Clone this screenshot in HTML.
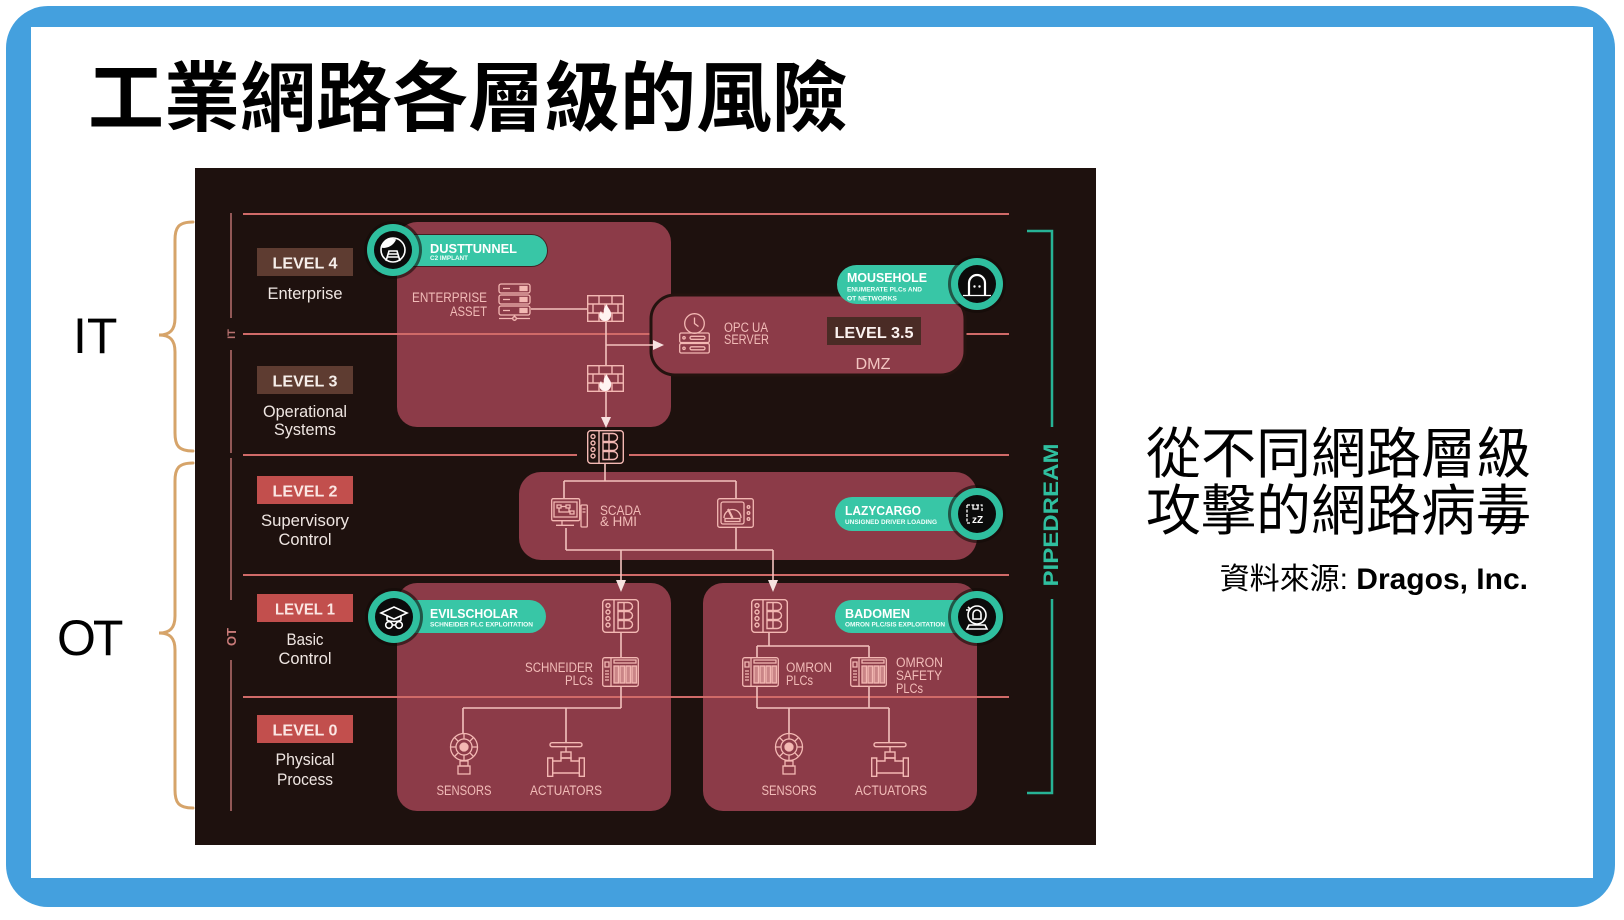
<!DOCTYPE html>
<html>
<head>
<meta charset="utf-8">
<style>
  html, body { margin:0; padding:0; }
  body { width:1624px; height:920px; overflow:hidden; background:#ffffff; position:relative; font-family:"Liberation Sans","Noto Sans CJK TC",sans-serif; }
  .frame { position:absolute; left:6px; top:6px; width:1609px; height:901px; background:#44a0de; border-radius:42px; }
  .inner { position:absolute; left:31px; top:27px; width:1562px; height:851px; background:#ffffff; }
  .title { position:absolute; left:88px; top:62px; font-family:"Liberation Sans","Noto Sans CJK TC",sans-serif; font-weight:700; font-size:76px; line-height:76px; white-space:nowrap; color:#000; }
  .side { position:absolute; left:1146px; top:426px; font-family:"Liberation Sans","Noto Sans CJK TC",sans-serif; font-weight:400; font-size:55px; line-height:57px; white-space:nowrap; color:#000; }
  .src { position:absolute; right:96px; top:565px; font-family:"Liberation Sans","Noto Sans CJK TC",sans-serif; font-size:30px; line-height:30px; white-space:nowrap; color:#000; }
  .src b { font-weight:700; }
  .lab { position:absolute; font-family:"Liberation Sans",sans-serif; font-size:50px; line-height:50px; color:#000; white-space:nowrap; }
</style>
</head>
<body>
<div class="frame"></div>
<div class="inner"></div>

<div class="title">工業網路各層級的風險</div>

<div class="lab" style="left:73px;top:311px;">IT</div>
<div class="lab" style="left:57px;top:613px;letter-spacing:-3px;">OT</div>

<svg style="position:absolute;left:0;top:0" width="1624" height="920" viewBox="0 0 1624 920">
  <g fill="none" stroke="#d6a46a" stroke-width="3" stroke-linecap="round">
    <path d="M193,222 C178,222 175,228 175,240 L175,318 C175,330 170,335 159,335 C170,335 175,340 175,352 L175,433 C175,445 178,451 193,451"/>
    <path d="M193,463 C178,463 175,469 175,481 L175,616 C175,628 170,633 159,633 C170,633 175,638 175,650 L175,790 C175,802 178,808 193,808"/>
  </g>
</svg>

<div class="side">從不同網路層級<br>攻擊的網路病毒</div>
<div class="src">資料來源: <b>Dragos, Inc.</b></div>

<svg style="position:absolute;left:195px;top:168px" width="901" height="677" viewBox="195 168 901 677" font-family="Liberation Sans, sans-serif">
  <defs>
    <g id="sw" fill="none" stroke="#f3b8b3" stroke-width="1.4">
      <rect x="0.7" y="0.7" width="35.6" height="32.6" rx="3"/>
      <line x1="12" y1="1" x2="12" y2="33"/>
      <circle cx="6" cy="6.5" r="2"/><circle cx="6" cy="13" r="2"/><circle cx="6" cy="19.5" r="2"/><circle cx="6" cy="26" r="2"/>
      <path d="M16,3.5h10a4.5,4 0 0 1 0,8h-10z M16,12.5h10a4.5,4 0 0 1 0,8h-10z M16,21.5h10a4.5,4 0 0 1 0,8h-10z M22,3.5v8 M22,12.5v8 M22,21.5v8"/>
    </g>
    <g id="fw" fill="none" stroke="#f3b8b3" stroke-width="1.4">
      <rect x="0.7" y="0.7" width="35.6" height="25.6"/>
      <path d="M1,9 H36 M1,18 H36 M12,1 V9 M25,1 V9 M6,9 V18 M18,9 V18 M31,9 V18 M12,18 V26 M25,18 V26"/>
      <path d="M18.5,26 C12,26 11,20 14,16 C15,19 16,19 17,18 C16,14 18,11 20,9 C20,13 25,15 24,21 C23.5,24 21,26 18.5,26 Z" fill="#fff3f1" stroke="none"/>
    </g>
    <g id="plc" fill="none" stroke="#f3b8b3" stroke-width="1.3">
      <rect x="0.7" y="0.7" width="35.6" height="28.6" rx="2"/>
      <line x1="9" y1="1" x2="9" y2="29"/>
      <path d="M3,5h4v5h-4z M3,14h4 M3,17h4 M3,20h4 M3,23h4"/>
      <rect x="12" y="3" width="22" height="3"/>
      <rect x="12" y="9" width="4.5" height="17" fill="#f3b8b3" fill-opacity=".6"/>
      <rect x="18" y="9" width="4.5" height="17" fill="#f3b8b3" fill-opacity=".6"/>
      <rect x="24" y="9" width="4.5" height="17" fill="#f3b8b3" fill-opacity=".6"/>
      <rect x="30" y="9" width="4.5" height="17" fill="#f3b8b3" fill-opacity=".6"/>
    </g>
    <g id="sen" fill="none" stroke="#f3b8b3" stroke-width="1.3">
      <circle cx="0" cy="14" r="13.5"/>
      <circle cx="0" cy="14" r="8"/>
      <circle cx="0" cy="14" r="4" fill="#f3b8b3"/>
      <path d="M0,0.5 V6 M0,22 V27.5 M-13.5,14 H-8 M8,14 H13.5 M-9.5,4.5 L-5.7,8.3 M5.7,19.7 L9.5,23.5 M9.5,4.5 L5.7,8.3 M-5.7,19.7 L-9.5,23.5"/>
      <rect x="-4" y="28" width="8" height="5"/>
      <rect x="-6" y="33" width="12" height="8"/>
    </g>
    <g id="act" fill="none" stroke="#f3b8b3" stroke-width="1.4">
      <rect x="3" y="0.7" width="32" height="4" rx="2"/>
      <line x1="19" y1="4.7" x2="19" y2="10"/>
      <rect x="14" y="10" width="10" height="6"/>
      <path d="M0.7,16 h5 v18.3 h-5z M32.3,16 h5 v18.3 h-5z M5.7,19 H14 V16 H24 V19 H32.3 M5.7,31 H32.3"/>
    </g>
  </defs>

  <rect x="195" y="168" width="901" height="677" fill="#1e110e"/>

  <!-- vertical IT/OT line -->
  <g stroke="#b06a68" stroke-width="1.6">
    <line x1="231" y1="213" x2="231" y2="318"/>
    <line x1="231" y1="350" x2="231" y2="453"/>
    <line x1="231" y1="458" x2="231" y2="600"/>
    <line x1="231" y1="660" x2="231" y2="811"/>
  </g>
  <text transform="translate(235,334) rotate(-90)" text-anchor="middle" font-size="11" font-weight="700" fill="#b87270">IT</text>
  <text transform="translate(236,637) rotate(-90)" text-anchor="middle" font-size="13" font-weight="700" fill="#c87a78">OT</text>

  <!-- boxes -->
  <g fill="#8c3b48">
    <rect x="397" y="222" width="274" height="205" rx="20"/>
    <rect x="519" y="472" width="458" height="88" rx="22"/>
    <rect x="397" y="583" width="274" height="228" rx="20"/>
    <rect x="703" y="583" width="274" height="228" rx="20"/>
  </g>

  <!-- horizontal level lines -->
  <g stroke="#d06a68" stroke-width="2">
    <line x1="243" y1="214" x2="1009" y2="214"/>
    <line x1="243" y1="334" x2="1009" y2="334"/>
    <line x1="243" y1="455" x2="577" y2="455"/>
    <line x1="629" y1="455" x2="1009" y2="455"/>
    <line x1="243" y1="575" x2="1009" y2="575"/>
    <line x1="243" y1="697" x2="1009" y2="697"/>
  </g>

  <!-- DMZ box -->
  <rect x="651" y="295" width="314" height="80" rx="24" fill="#8c3b48" stroke="#24130f" stroke-width="3"/>

  <!-- level labels -->
  <g font-weight="700" font-size="16" text-anchor="middle">
    <rect x="257" y="248" width="96" height="28" fill="#5e3c31"/>
    <text x="305" y="268.5" fill="#f6eeea" textLength="65" lengthAdjust="spacingAndGlyphs">LEVEL 4</text>
    <rect x="257" y="366" width="96" height="28" fill="#5e3c31"/>
    <text x="305" y="386.5" fill="#f6eeea" textLength="65" lengthAdjust="spacingAndGlyphs">LEVEL 3</text>
    <rect x="257" y="476" width="96" height="28" fill="#c24f4d"/>
    <text x="305" y="496.5" fill="#fbe6e3" textLength="65" lengthAdjust="spacingAndGlyphs">LEVEL 2</text>
    <rect x="257" y="594" width="96" height="28" fill="#c24f4d"/>
    <text x="305" y="614.5" fill="#fbe6e3" textLength="60" lengthAdjust="spacingAndGlyphs">LEVEL 1</text>
    <rect x="257" y="715" width="96" height="28" fill="#c24f4d"/>
    <text x="305" y="735.5" fill="#fbe6e3" textLength="65" lengthAdjust="spacingAndGlyphs">LEVEL 0</text>
  </g>
  <g font-size="17" text-anchor="middle" fill="#efe6e2">
    <text x="305" y="299" textLength="75" lengthAdjust="spacingAndGlyphs">Enterprise</text>
    <text x="305" y="417" textLength="84" lengthAdjust="spacingAndGlyphs">Operational</text>
    <text x="305" y="435" textLength="62" lengthAdjust="spacingAndGlyphs">Systems</text>
    <text x="305" y="526" textLength="88" lengthAdjust="spacingAndGlyphs">Supervisory</text>
    <text x="305" y="545" textLength="53" lengthAdjust="spacingAndGlyphs">Control</text>
    <text x="305" y="645" textLength="37" lengthAdjust="spacingAndGlyphs">Basic</text>
    <text x="305" y="664" textLength="53" lengthAdjust="spacingAndGlyphs">Control</text>
    <text x="305" y="765" textLength="59" lengthAdjust="spacingAndGlyphs">Physical</text>
    <text x="305" y="785" textLength="56" lengthAdjust="spacingAndGlyphs">Process</text>
  </g>

  <!-- connectors -->
  <g stroke="#f3c2bd" stroke-width="1.6" fill="none">
    <path d="M531,309 H587"/>
    <path d="M606,322 V366 M606,391 V420"/>
    <path d="M606,345 H655"/>
    <path d="M605,463 V481 M564,481 H736 M564,481 V498 M736,481 V498"/>
    <path d="M566,528 V550 M736,528 V550 M566,550 H773 M621,550 V583 M773,550 V583"/>
    <path d="M621,633 V657 M621,687 V708 M463,708 H621 M463,708 V733 M566,708 V742"/>
    <path d="M769,633 V646 M757,646 H869 M757,646 V657 M869,646 V657 M757,687 V708 M869,687 V708 M757,708 H889 M789,708 V733 M889,708 V742"/>
  </g>
  <g fill="#f7e2e0">
    <path d="M601,417 L611,417 L606,428 Z"/>
    <path d="M653,340 L653,350 L664,345 Z"/>
    <path d="M616,580 L626,580 L621,592 Z"/>
    <path d="M768,580 L778,580 L773,592 Z"/>
  </g>

  <!-- icons -->
  <g fill="none" stroke="#f3b8b3" stroke-width="1.3" transform="translate(498,283)">
    <rect x="1" y="1" width="31" height="9" rx="2"/>
    <rect x="1" y="12" width="31" height="9" rx="2"/>
    <rect x="1" y="23" width="31" height="9" rx="2"/>
    <path d="M5,5.5h7 M5,16.5h7 M5,27.5h7"/>
    <rect x="22" y="3.5" width="7" height="4" fill="#f3b8b3"/>
    <rect x="22" y="14.5" width="7" height="4" fill="#f3b8b3"/>
    <rect x="22" y="25.5" width="7" height="4" fill="#f3b8b3"/>
    <path d="M16.5,32 V34 M1,35.5 H32"/>
    <circle cx="16.5" cy="35.5" r="1.8" fill="#8c3b48"/>
  </g>
  <use href="#fw" x="587" y="295"/>
  <use href="#fw" x="587" y="365"/>
  <use href="#sw" x="587" y="430"/>
  <use href="#sw" x="602" y="599"/>
  <use href="#sw" x="751" y="599"/>
  <use href="#plc" x="602" y="657"/>
  <use href="#plc" x="742" y="657"/>
  <use href="#plc" x="850" y="657"/>
  <use href="#sen" x="464" y="733"/>
  <use href="#sen" x="789" y="733"/>
  <use href="#act" x="547" y="742"/>
  <use href="#act" x="871" y="742"/>

  <!-- SCADA icon -->
  <g fill="none" stroke="#f3b8b3" stroke-width="1.3" transform="translate(551,498)">
    <rect x="0.7" y="0.7" width="28" height="22" rx="1.5"/>
    <path d="M3,4 h23 v15 h-23z"/>
    <path d="M6,7h4v3h-4z M15,7h4v3h-4z M10,8.5h5 M8,10v4 h10 v-4 M19,13h4v3h-4z"/>
    <path d="M11,23v4 M5,27.3h18"/>
    <rect x="30" y="7" width="6.3" height="22" rx="1"/>
    <path d="M31.5,11h3 M31.5,14h3"/>
  </g>
  <!-- HMI icon -->
  <g fill="none" stroke="#f3b8b3" stroke-width="1.3" transform="translate(717,498)">
    <rect x="0.7" y="0.7" width="35.6" height="28.6" rx="2"/>
    <rect x="4" y="4" width="23" height="22" rx="2"/>
    <path d="M7,20 A8.5,8.5 0 0 1 24,20"/>
    <path d="M15.5,20 L11,11" stroke-width="2.2"/>
    <rect x="8" y="20.5" width="15" height="3"/>
    <circle cx="31.5" cy="9" r="1.3"/><circle cx="31.5" cy="15" r="1.3"/><circle cx="31.5" cy="21" r="1.3"/>
  </g>
  <!-- OPC UA icon -->
  <g fill="none" stroke="#f3b8b3" stroke-width="1.3" transform="translate(679,313)">
    <circle cx="15.5" cy="10.5" r="9.8"/>
    <path d="M15.5,4.5 V10.5 L19.5,13.5"/>
    <rect x="0.7" y="20" width="29.6" height="9.5" rx="1.5"/>
    <rect x="0.7" y="30.5" width="29.6" height="9.5" rx="1.5"/>
    <circle cx="5" cy="24.8" r="1.2"/><circle cx="5" cy="35.3" r="1.2"/>
    <rect x="11" y="23.3" width="15" height="3" rx="1.5"/>
    <rect x="11" y="33.8" width="15" height="3" rx="1.5"/>
  </g>

  <!-- diagram labels -->
  <g font-size="13.5" fill="#f2bcb8">
    <text x="487" y="302" text-anchor="end" textLength="75" lengthAdjust="spacingAndGlyphs">ENTERPRISE</text>
    <text x="487" y="316" text-anchor="end" textLength="37" lengthAdjust="spacingAndGlyphs">ASSET</text>
    <text x="724" y="332" textLength="44" lengthAdjust="spacingAndGlyphs">OPC UA</text>
    <text x="724" y="344" textLength="45" lengthAdjust="spacingAndGlyphs">SERVER</text>
    <text x="600" y="515" textLength="41" lengthAdjust="spacingAndGlyphs">SCADA</text>
    <text x="600" y="526" textLength="37" lengthAdjust="spacingAndGlyphs">&amp; HMI</text>
    <text x="593" y="672" text-anchor="end" textLength="68" lengthAdjust="spacingAndGlyphs">SCHNEIDER</text>
    <text x="593" y="685" text-anchor="end" textLength="28" lengthAdjust="spacingAndGlyphs">PLCs</text>
    <text x="786" y="672" textLength="46" lengthAdjust="spacingAndGlyphs">OMRON</text>
    <text x="786" y="685" textLength="27" lengthAdjust="spacingAndGlyphs">PLCs</text>
    <text x="896" y="667" textLength="47" lengthAdjust="spacingAndGlyphs">OMRON</text>
    <text x="896" y="680" textLength="46" lengthAdjust="spacingAndGlyphs">SAFETY</text>
    <text x="896" y="693" textLength="27" lengthAdjust="spacingAndGlyphs">PLCs</text>
    <text x="464" y="795" text-anchor="middle" textLength="55" lengthAdjust="spacingAndGlyphs">SENSORS</text>
    <text x="566" y="795" text-anchor="middle" textLength="72" lengthAdjust="spacingAndGlyphs">ACTUATORS</text>
    <text x="789" y="795" text-anchor="middle" textLength="55" lengthAdjust="spacingAndGlyphs">SENSORS</text>
    <text x="891" y="795" text-anchor="middle" textLength="72" lengthAdjust="spacingAndGlyphs">ACTUATORS</text>
  </g>
  <rect x="827" y="317" width="94" height="28" fill="#4a2b25"/>
  <text x="874" y="338" text-anchor="middle" font-size="16" font-weight="700" fill="#fbf2ef" textLength="79" lengthAdjust="spacingAndGlyphs">LEVEL 3.5</text>
  <text x="873" y="369" text-anchor="middle" font-size="16" fill="#f2c4c0" textLength="35" lengthAdjust="spacingAndGlyphs">DMZ</text>

  <!-- badges -->
  <g>
    <!-- DUSTTUNNEL -->
    <rect x="394" y="234" width="154" height="33" rx="16.5" fill="#15100e" opacity=".6"/>
    <rect x="394" y="235" width="153" height="31" rx="15.5" fill="#38c6a6"/>
    <circle cx="393" cy="250" r="29" fill="#120b09" opacity=".6"/>
    <circle cx="393" cy="250" r="26" fill="#2fbf9f"/>
    <circle cx="393" cy="250" r="19" fill="#0b0b0b"/>
    <g fill="none" stroke="#fff" stroke-width="1.6" transform="translate(393,250)">
      <circle r="12"/>
      <path d="M-7,11 L-4,1 H4 L7,11 M-6,7 H6 M-5,4 H5"/>
      <path d="M-11,-3 C-9,-10 -3,-12 2,-10 C0,-6 -5,-2 -11,-3 Z" fill="#fff"/>
    </g>
    <text x="430" y="253" font-size="13" font-weight="700" fill="#fff" textLength="87" lengthAdjust="spacingAndGlyphs">DUSTTUNNEL</text>
    <text x="430" y="260" font-size="6.5" font-weight="700" fill="#f0fffb" textLength="38" lengthAdjust="spacingAndGlyphs">C2 IMPLANT</text>

    <!-- MOUSEHOLE -->
    <rect x="837" y="265" width="140" height="39" rx="19.5" fill="#38c6a6"/>
    <circle cx="977" cy="284" r="29" fill="#120b09" opacity=".6"/>
    <circle cx="977" cy="284" r="26" fill="#2fbf9f"/>
    <circle cx="977" cy="284" r="19" fill="#0b0b0b"/>
    <g fill="none" stroke="#fff" stroke-width="2.2" transform="translate(977,284)">
      <path d="M-8,11 V-1 A8,8 0 0 1 8,-1 V11"/>
      <path d="M-14,11.5 H14" stroke-width="1.3"/>
      <circle cx="-2.5" cy="2.5" r="1.2" fill="#fff" stroke="none"/>
      <circle cx="2.5" cy="2.5" r="1.2" fill="#fff" stroke="none"/>
    </g>
    <text x="847" y="282" font-size="13" font-weight="700" fill="#fff" textLength="80" lengthAdjust="spacingAndGlyphs">MOUSEHOLE</text>
    <text x="847" y="291.5" font-size="6.5" font-weight="700" fill="#f0fffb" textLength="75" lengthAdjust="spacingAndGlyphs">ENUMERATE PLCs AND</text>
    <text x="847" y="300.5" font-size="6.5" font-weight="700" fill="#f0fffb" textLength="50" lengthAdjust="spacingAndGlyphs">OT NETWORKS</text>

    <!-- LAZYCARGO -->
    <rect x="835" y="497" width="142" height="34" rx="17" fill="#38c6a6"/>
    <circle cx="977" cy="514" r="29" fill="#120b09" opacity=".6"/>
    <circle cx="977" cy="514" r="26" fill="#2fbf9f"/>
    <circle cx="977" cy="514" r="19" fill="#0b0b0b"/>
    <g fill="none" stroke="#fff" stroke-width="1.3" transform="translate(977,514)">
      <path d="M-10,-9 H5 V-3 M-10,-9 V9 H-6" stroke-dasharray="3 1.5"/>
      <path d="M-4,-9 V-5 H1 V-9"/>
    </g>
    <text x="972" y="523" font-size="10" font-weight="700" fill="#fff">zZ</text>
    <text x="845" y="515" font-size="13" font-weight="700" fill="#fff" textLength="76" lengthAdjust="spacingAndGlyphs">LAZYCARGO</text>
    <text x="845" y="524" font-size="6.5" font-weight="700" fill="#f0fffb" textLength="92" lengthAdjust="spacingAndGlyphs">UNSIGNED DRIVER LOADING</text>

    <!-- EVILSCHOLAR -->
    <rect x="394" y="600" width="152" height="33" rx="16.5" fill="#38c6a6"/>
    <circle cx="394" cy="617" r="29" fill="#120b09" opacity=".6"/>
    <circle cx="394" cy="617" r="26" fill="#2fbf9f"/>
    <circle cx="394" cy="617" r="19" fill="#0b0b0b"/>
    <g fill="none" stroke="#fff" stroke-width="1.6" transform="translate(394,617)">
      <path d="M-13,-4 L0,-10 L13,-4 L0,2 Z"/>
      <path d="M-7,-1 V3 C-4,5 4,5 7,3 V-1"/>
      <circle cx="-5" cy="8" r="3.3"/>
      <circle cx="5" cy="8" r="3.3"/>
      <path d="M-1.7,8 H1.7"/>
    </g>
    <text x="430" y="618" font-size="13" font-weight="700" fill="#fff" textLength="88" lengthAdjust="spacingAndGlyphs">EVILSCHOLAR</text>
    <text x="430" y="626.5" font-size="6.5" font-weight="700" fill="#f0fffb" textLength="103" lengthAdjust="spacingAndGlyphs">SCHNEIDER PLC EXPLOITATION</text>

    <!-- BADOMEN -->
    <rect x="835" y="600" width="142" height="33" rx="16.5" fill="#38c6a6"/>
    <circle cx="977" cy="617" r="29" fill="#120b09" opacity=".6"/>
    <circle cx="977" cy="617" r="26" fill="#2fbf9f"/>
    <circle cx="977" cy="617" r="19" fill="#0b0b0b"/>
    <g fill="none" stroke="#fff" stroke-width="1.6" transform="translate(977,617)">
      <circle cx="0" cy="-2" r="9"/>
      <path d="M-4,2 V-3 A4,4 0 0 1 4,-3 V2 Z"/>
      <path d="M-8,8 H8 L10,12 H-10 Z"/>
      <path d="M-9,-10 L-7,-8 M-11,-7 H-8"/>
    </g>
    <text x="845" y="618" font-size="13" font-weight="700" fill="#fff" textLength="65" lengthAdjust="spacingAndGlyphs">BADOMEN</text>
    <text x="845" y="626.5" font-size="6.5" font-weight="700" fill="#f0fffb" textLength="100" lengthAdjust="spacingAndGlyphs">OMRON PLC/SIS EXPLOITATION</text>
  </g>

  <!-- PIPEDREAM bracket -->
  <g fill="none" stroke="#27b396" stroke-width="2.5">
    <path d="M1027,231 H1052 V427"/>
    <path d="M1052,599 V793 H1027"/>
  </g>
  <text transform="translate(1058,515) rotate(-90)" text-anchor="middle" font-size="21" font-weight="700" fill="#2fbf9f" textLength="143" lengthAdjust="spacingAndGlyphs">PIPEDREAM</text>
</svg>
</body>
</html>
